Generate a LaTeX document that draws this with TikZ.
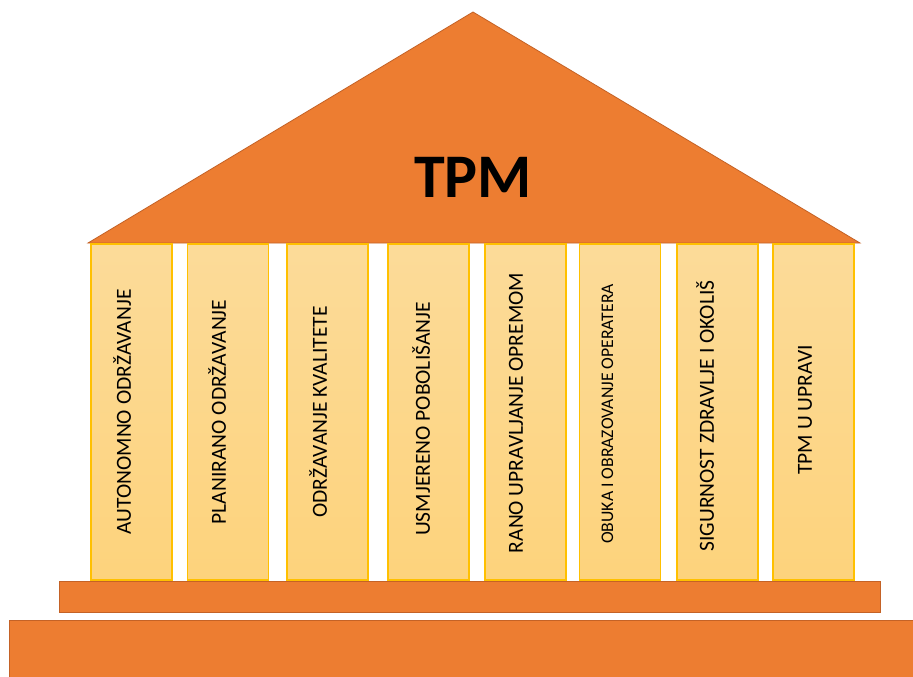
\documentclass[tikz,border=0pt]{standalone}
\usepackage{fontspec}
\setmainfont{Carlito}
\usetikzlibrary{shapes.geometric}

\definecolor{roofcol}{RGB}{237,125,49}
\definecolor{edgecol}{RGB}{196,98,38}
\definecolor{pillarline}{RGB}{255,192,0}
\definecolor{pillartop}{RGB}{252,219,153}
\definecolor{pillarbot}{RGB}{253,211,124}

\begin{document}
\begin{tikzpicture}[x=1pt,y=-1pt]

\tikzset{pillar/.style = {shape=rectangle,draw=pillarline,line width=1.3pt,top color=pillartop,bottom color=pillarbot,minimum width=81pt,minimum height=336pt,inner sep=0pt}}
\tikzset{pillartext/.style = {rotate=90,inner sep=0pt,text height=13.8pt,text depth=0pt,font=\fontsize{21.5}{24}\selectfont}}
\tikzset{block/.style = {fill=roofcol,draw=edgecol,line width=0.8pt}}

\useasboundingbox (0,0) rectangle (913,677);
\clip (0,0) rectangle (913,677);

%roof
\coordinate (apex) at (473,12);
\coordinate (eaveL) at (88,243);
\coordinate (eaveR) at (860,243);
\fill[block] (eaveL) -- (apex) -- (eaveR) -- cycle;
\node[inner sep=0pt,text height=40pt,text depth=0pt,font=\fontsize{62}{62}\selectfont\bfseries] (tpm) at (473,177) {TPM};

%pillars
\node[pillar] (p1) at (131.5,412) {};
\node[pillar] (p2) at (228,412) {};
\node[pillar] (p3) at (327.5,412) {};
\node[pillar] (p4) at (428.5,412) {};
\node[pillar] (p5) at (525.5,412) {};
\node[pillar] (p6) at (620,412) {};
\node[pillar] (p7) at (717.5,412) {};
\node[pillar] (p8) at (813.5,412) {};

%labels
\node[pillartext] (t1) at (124,412) {AUTONOMNO ODRŽAVANJE};
\node[pillartext] (t2) at (219,412) {PLANIRANO ODRŽAVANJE};
\node[pillartext] (t3) at (320,412) {ODRŽAVANJE KVALITETE};
\node[pillartext] (t4) at (423,419) {USMJERENO POBOLIŠANJE};
\node[pillartext] (t5) at (516,413) {RANO UPRAVLJANJE OPREMOM};
\node[pillartext, text height=11.3pt, font=\fontsize{17.7}{20}\selectfont] (t6) at (607.5,414) {OBUKA I OBRAZOVANJE OPERATERA};
\node[pillartext] (t7) at (707,416) {SIGURNOST ZDRAVLJE I OKOLIŠ};
\node[pillartext] (t8) at (805,410) {TPM U UPRAVI};

%steps
\draw[block] (59,581) rectangle (880,612);
\draw[block] (9,620) rectangle (925,690);

\end{tikzpicture}
\end{document}
